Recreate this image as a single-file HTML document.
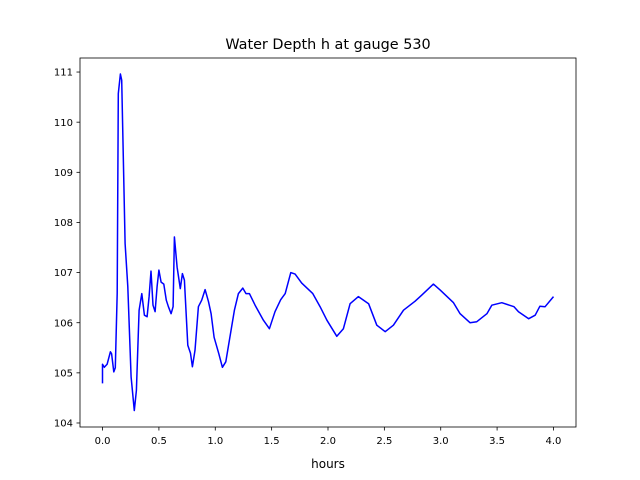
<!DOCTYPE html>
<html><head><meta charset="utf-8"><style>
html,body{margin:0;padding:0;background:#fff;}
svg{display:block;font-family:"DejaVu Sans","Liberation Sans",sans-serif;}
</style></head><body>
<svg id="chart" width="640" height="480" xmlns="http://www.w3.org/2000/svg">
<rect width="640" height="480" fill="#fff"/>
<text x="328" y="49" font-size="14.4" text-anchor="middle">Water Depth h at gauge 530</text>
<g id="plot"></g>
<text x="328" y="468" font-size="12" text-anchor="middle">hours</text>
</svg>
<script>
const xTicks = [0, 0.5, 1.0, 1.5, 2.0, 2.5, 3.0, 3.5, 4.0];
const xTickLabels = ["0.0","0.5","1.0","1.5","2.0","2.5","3.0","3.5","4.0"];
const yTicks = [104,105,106,107,108,109,110,111];
const yTickLabels = ["104","105","106","107","108","109","110","111"];
const hours = [0,0,0.016,0.04,0.07,0.08,0.10,0.113,0.13,0.14,0.158,0.17,0.2,0.224,0.253,0.282,0.30,0.324,0.348,0.371,0.395,0.413,0.43,0.448,0.466,0.484,0.50,0.519,0.543,0.566,0.584,0.608,0.626,0.637,0.661,0.69,0.708,0.726,0.756,0.78,0.797,0.82,0.85,0.88,0.91,0.94,0.963,0.99,1.03,1.063,1.093,1.12,1.17,1.205,1.244,1.273,1.303,1.353,1.427,1.48,1.53,1.58,1.62,1.67,1.708,1.767,1.865,1.93,1.99,2.078,2.137,2.196,2.27,2.36,2.433,2.507,2.58,2.67,2.773,2.832,2.935,2.995,3.113,3.172,3.26,3.32,3.41,3.453,3.542,3.65,3.69,3.78,3.838,3.88,3.926,4.0];
const depth = [104.79,105.17,105.11,105.17,105.42,105.38,105.02,105.1,106.59,110.57,110.96,110.84,107.58,106.72,104.92,104.25,104.65,106.25,106.58,106.15,106.12,106.52,107.03,106.35,106.22,106.72,107.05,106.81,106.77,106.45,106.32,106.18,106.32,107.71,107.11,106.68,106.98,106.85,105.55,105.39,105.12,105.45,106.32,106.45,106.66,106.42,106.18,105.71,105.39,105.11,105.22,105.58,106.25,106.58,106.69,106.58,106.58,106.35,106.05,105.88,106.22,106.46,106.58,107.0,106.97,106.79,106.58,106.32,106.05,105.73,105.88,106.38,106.52,106.38,105.95,105.82,105.95,106.25,106.43,106.55,106.77,106.65,106.4,106.18,106.0,106.02,106.18,106.35,106.4,106.32,106.22,106.08,106.15,106.33,106.32,106.52];

const L=80,R=576,T=58,B=427;
const xMin=-0.2,xMax=4.2,yMin=103.92,yMax=111.28;
const sx=v=>L+(v-xMin)/(xMax-xMin)*(R-L);
const sy=v=>B-(v-yMin)/(yMax-yMin)*(B-T);
const NS="http://www.w3.org/2000/svg";
const g=document.getElementById('plot');
function mk(tag,attrs){const e=document.createElementNS(NS,tag);for(const k in attrs)e.setAttribute(k,attrs[k]);g.appendChild(e);return e;}

const pts=hours.map((h,i)=>sx(h).toFixed(1)+','+sy(depth[i]).toFixed(1)).join(' ');
const line=mk('polyline',{points:pts,fill:'none',stroke:'#0000ff','stroke-width':1.5,'stroke-linejoin':'round'});



const frame=mk('rect',{x:L,y:T,width:R-L,height:B-T,fill:'none',stroke:'#000','stroke-width':0.8});



xTicks.forEach((v,i)=>{
  const x=sx(v);
  const t=mk('line',{x1:x,y1:B,x2:x,y2:B+3.5,stroke:'#000','stroke-width':0.8});
  
  
  const l=mk('text',{x:x,y:B+17,'font-size':10,'text-anchor':'middle'});
  l.textContent=xTickLabels[i];
  
  
});
yTicks.forEach((v,i)=>{
  const y=sy(v);
  const t=mk('line',{x1:L-3.5,y1:y,x2:L,y2:y,stroke:'#000','stroke-width':0.8});
  
  
  const l=mk('text',{x:L-7,y:y+3.6,'font-size':10,'text-anchor':'end'});
  l.textContent=yTickLabels[i];
  
  
});
</script>
</body></html>
